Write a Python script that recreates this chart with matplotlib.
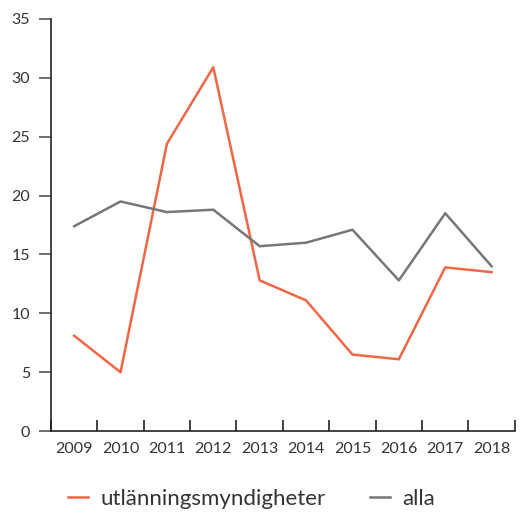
import matplotlib
matplotlib.use("Agg")
import matplotlib.pyplot as plt

years = ["2009", "2010", "2011", "2012", "2013", "2014", "2015", "2016", "2017", "2018"]
utlanning = [8.1, 5.0, 24.4, 30.9, 12.8, 11.1, 6.5, 6.1, 13.9, 13.5]
alla = [17.4, 19.5, 18.6, 18.8, 15.7, 16.0, 17.1, 12.8, 18.5, 14.0]
yticks = [0, 5, 10, 15, 20, 25, 30, 35]

plt.rcParams['font.family'] = ['Lato', 'DejaVu Sans']

fig = plt.figure(figsize=(5.2, 5.12), dpi=100)
ax = fig.add_axes([0.098, 0.158, 0.892, 0.805])

x = range(len(years))
ax.plot(x, utlanning, color="#f26645", lw=1.8, label="utlänningsmyndigheter")
ax.plot(x, alla, color="#77777a", lw=1.8, label="alla")

ax.set_xlim(-0.5, len(years) - 0.5)
ax.set_ylim(0, 35)
ax.set_yticks(yticks)
ax.set_xticks(list(x))
ax.set_xticklabels(years)
ax.set_xticks([i - 0.5 for i in range(len(years) + 1)], minor=True)

ax.tick_params(axis="x", which="major", length=0, pad=8, labelsize=11.5, labelcolor="#333333")
ax.tick_params(axis="x", which="minor", direction="in", length=8, width=1.2, color="#222222")
ax.tick_params(axis="y", length=9, width=1.2, color="#555555", labelsize=11.5, labelcolor="#333333", pad=6)

for s in ["top", "right"]:
    ax.spines[s].set_visible(False)
for s in ["left", "bottom"]:
    ax.spines[s].set_color("#222222")
    ax.spines[s].set_linewidth(1.2)

leg = fig.legend(loc="center", bbox_to_anchor=(0.484, 0.025), ncol=2, frameon=False,
                 fontsize=16, handlelength=0.9, columnspacing=2.0, handletextpad=0.55)
for t in leg.get_texts():
    t.set_color("#333333")

fig.savefig("out.png", dpi=100)
